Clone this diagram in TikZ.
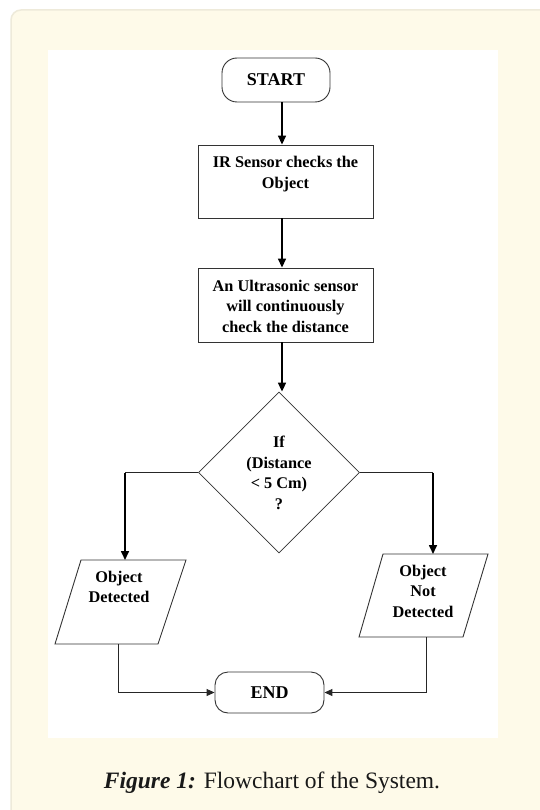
\documentclass[tikz,border=0pt]{standalone}
\usepackage{fontspec}
\setmainfont{Liberation Serif}
\usetikzlibrary{shapes.geometric,arrows.meta}
\definecolor{card}{HTML}{FEFAE9}
\definecolor{cardedge}{HTML}{EEEADA}
\definecolor{boxline}{HTML}{333333}
\begin{document}
\begin{tikzpicture}[x=1pt,y=-1pt,
  txt/.style={align=center,inner sep=0pt,font=\fontsize{16.3}{20.5}\selectfont\bfseries},
  term/.style={draw=boxline,line width=0.9pt,fill=white,rounded corners=15pt,inner sep=0pt,font=\fontsize{18}{20}\selectfont\bfseries},
  procbox/.style={draw=boxline,line width=0.9pt,fill=white,minimum width=175pt,inner sep=0pt},
  decbox/.style={draw=boxline,line width=0.8pt,fill=white,diamond,aspect=1,minimum width=161pt,minimum height=161pt,inner sep=0pt},
  para/.style={draw=boxline,line width=0.9pt,fill=white},
  flow/.style={line width=1.6pt,-{Triangle[length=9pt,width=8pt]}},
  hline/.style={line width=1pt,draw=black!85},
  thinflow/.style={line width=1pt,draw=black!85,-{Triangle[length=8pt,width=7pt]}}]
\useasboundingbox (0,0) rectangle (539,810);
\fill[white] (0,0) rectangle (539,810);
\draw[cardedge,line width=1.5pt,fill=card,rounded corners=10pt] (11,10) rectangle (570,840);
\fill[white] (48,50) rectangle (498,738);

% nodes
\node[term,minimum width=108pt,minimum height=44pt] (start) at (276,80) {START};
\node[procbox,minimum height=73pt] (ir) at (285.5,181.5) {};
\node[txt] (irt) at (285.5,174) {IR Sensor checks the\\Object};
\node[procbox,minimum height=74pt] (us) at (285.5,305) {};
\node[txt] (ust) at (285.5,306) {An Ultrasonic sensor\\will continuously\\check the distance};
\node[decbox] (dec) at (279,472.5) {};
\node[txt] (dect) at (279,473) {If\\(Distance\\{< 5 Cm)}\\?};

% parallelograms
\coordinate (plt) at (125,560);
\coordinate (plb) at (118,644);
\coordinate (prt) at (433,554);
\coordinate (prb) at (426,637);
\draw[para] (81,560) -- (186,560) -- (158,644) -- (55,644) -- cycle;
\node[txt] (pl) at (119,587) {Object\\Detected};
\draw[para] (383,554) -- (488,554) -- (463,637) -- (359,637) -- cycle;
\node[txt] (pr) at (423,591) {Object\\Not\\Detected};

\node[term,rounded corners=13pt,minimum width=109pt,minimum height=41pt] (end) at (269.5,692.5) {END};
\coordinate (jl) at (plb |- end.west);
\coordinate (jr) at (prb |- end.east);
\coordinate (dl) at (plt |- dec.west);
\coordinate (dr) at (prt |- dec.east);

% connectors
\draw[flow] ([xshift=6pt]start.south) -- ([xshift=-3.5pt]ir.north);
\draw[flow] ([xshift=-3.5pt]ir.south) -- ([xshift=-3.5pt]us.north);
\draw[flow] ([xshift=-3.5pt]us.south) -- ([xshift=3pt]dec.north);
\draw[hline] (dec.west) -- (dl);
\draw[flow] (dl) -- (plt);
\draw[hline] (dec.east) -- (dr);
\draw[flow] (dr) -- (prt);
\draw[thinflow] (plb) -- (jl) -- (end.west);
\draw[thinflow] (prb) -- (jr) -- (end.east);

% caption
\node[inner sep=0pt,font=\fontsize{23.5}{26}\selectfont,text=black!90] (cap) at (272,783) {\textbf{\textit{Figure 1:}} Flowchart of the System.};
\end{tikzpicture}
\end{document}
